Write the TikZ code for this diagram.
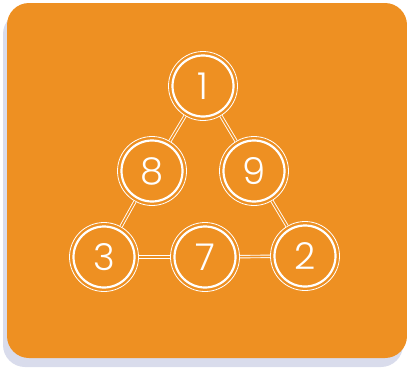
\documentclass[tikz,border=0pt]{standalone}
\usepackage{fontspec}
\setmainfont{Poppins}[UprightFont=* Light]
\definecolor{bgorange}{HTML}{EE9022}
\definecolor{shadowc}{HTML}{D9DCEC}
\tikzset{
  numnode/.style={circle, draw=white, line width=0.8pt, minimum size=69pt, inner sep=0pt,
    text=white, font=\fontsize{37}{37}\selectfont},
  link/.style={draw=white, line width=0.9pt, double=bgorange, double distance=1.6pt},
}
\begin{document}
\begin{tikzpicture}[x=1pt,y=-1pt]
\useasboundingbox (0,0) rectangle (407,367);
\fill[shadowc, rounded corners=22pt] (3,12) rectangle (403,367);
\fill[bgorange, rounded corners=22pt] (7,3) rectangle (407,358);
\node[numnode] (n1) at (203,86) {1};
\node[numnode] (n8) at (152,171) {8};
\node[numnode] (n9) at (254,171) {9};
\node[numnode] (n3) at (104,257) {3};
\node[numnode] (n7) at (205,257) {7};
\node[numnode] (n2) at (305,256) {2};
\foreach \n in {n1,n8,n9,n3,n7,n2}{
  \draw[white, line width=2.2pt] (\n.center) circle[radius=30.5pt];
}
\draw[link] (n1) -- (n8);
\draw[link] (n1) -- (n9);
\draw[link] (n8) -- (n3);
\draw[link] (n9) -- (n2);
\draw[link] (n3.east) -- (n7.west);
\draw[link] (n7) -- (n2);
\end{tikzpicture}
\end{document}
